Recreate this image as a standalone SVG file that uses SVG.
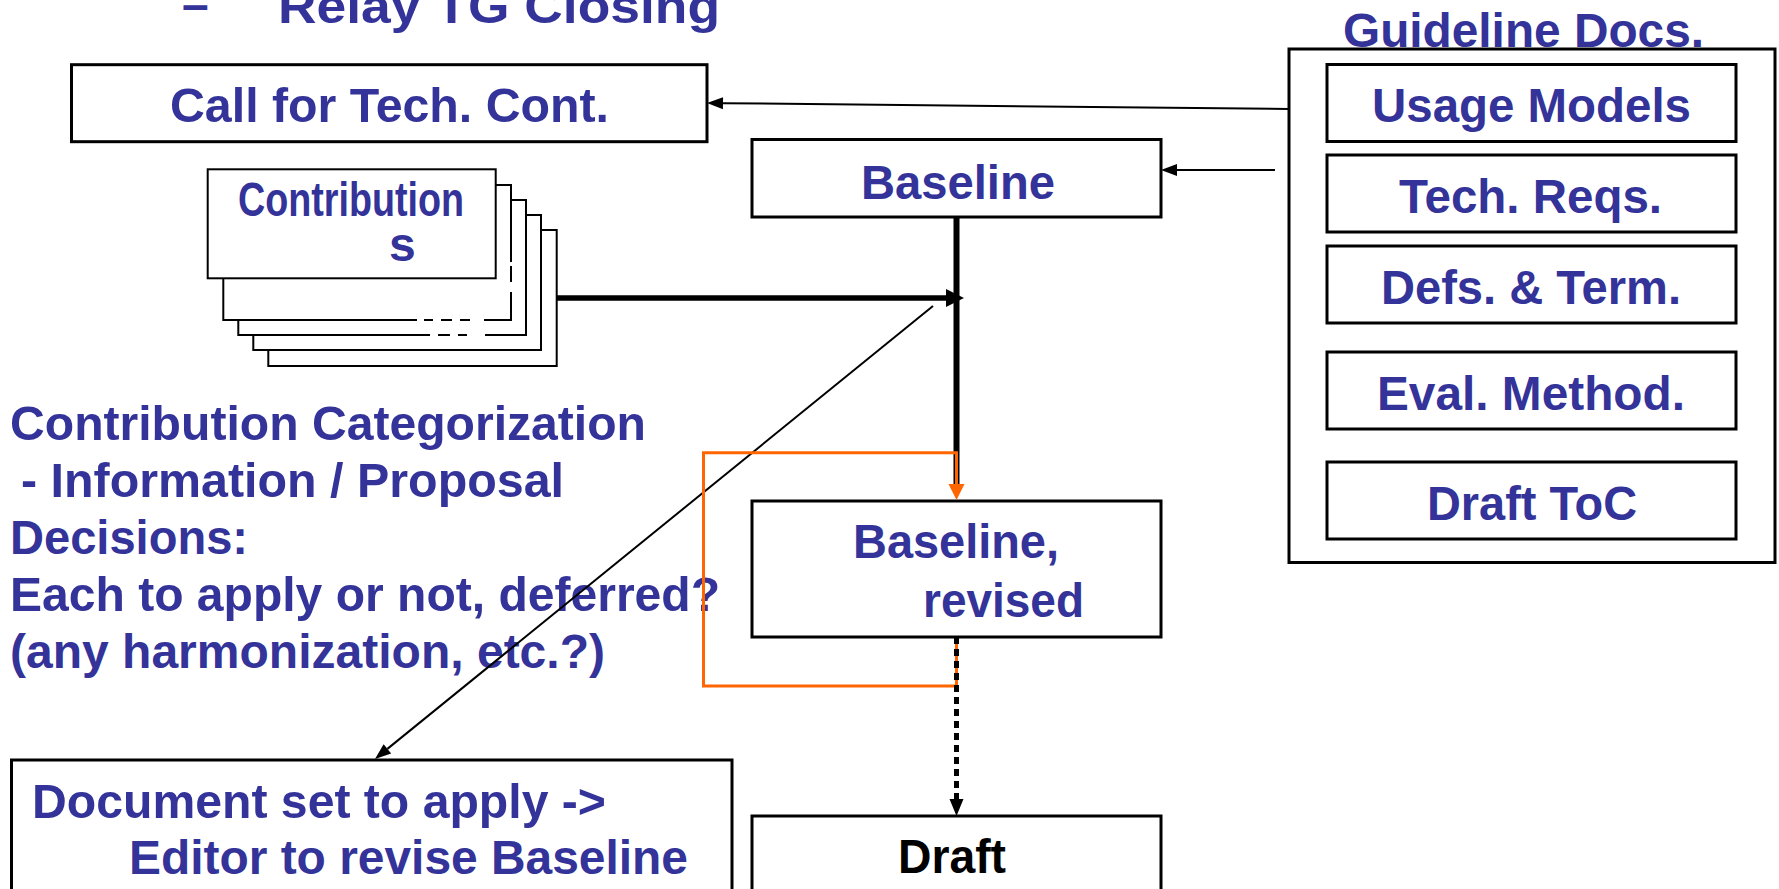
<svg xmlns="http://www.w3.org/2000/svg" width="1779" height="889" viewBox="0 0 1779 889">
<style>
.t{font-family:"Liberation Sans",Arial,sans-serif;font-weight:bold;fill:#333399;font-size:48px}
.box{fill:#fff;stroke:#000;stroke-width:3}
.pg{fill:#fff;stroke:#000;stroke-width:2}
.gap{stroke:#fff;stroke-width:4;fill:none}
.thin{stroke:#000;stroke-width:2;fill:none}
</style>
<defs>
<marker id="mThin" markerUnits="userSpaceOnUse" markerWidth="16" markerHeight="12" refX="0" refY="6" orient="auto" overflow="visible"><path d="M0,0 L16,6 L0,12 z" fill="#000"/></marker>
<marker id="mThick" markerUnits="userSpaceOnUse" markerWidth="18" markerHeight="18" refX="0" refY="9" orient="auto" overflow="visible"><path d="M0,0 L18,9 L0,18 z" fill="#000"/></marker>
<marker id="mOrange" markerUnits="userSpaceOnUse" markerWidth="16" markerHeight="16" refX="0" refY="8" orient="auto" overflow="visible"><path d="M0,0 L16,8 L0,16 z" fill="#FF6600"/></marker>
<marker id="mDot" markerUnits="userSpaceOnUse" markerWidth="16" markerHeight="14" refX="0" refY="7" orient="auto" overflow="visible"><path d="M0,0 L17,7 L0,14 z" fill="#000"/></marker>
</defs>
<rect width="1779" height="889" fill="#fff"/>

<g id="title">
<text class="t" x="182" y="21" font-size="50">–</text>
<text class="t" x="278" y="23" font-size="53" textLength="442" lengthAdjust="spacingAndGlyphs">Relay TG Closing</text>
</g>

<g id="call">
<rect class="box" x="71.5" y="64.7" width="635.5" height="77"/>
<text class="t" x="170" y="122" textLength="439" lengthAdjust="spacingAndGlyphs">Call for Tech. Cont.</text>
</g>

<g id="contributions">
<rect class="pg" x="268.3" y="230" width="288.4" height="136"/>
<rect class="pg" x="253.3" y="215" width="287.7" height="135"/>
<rect class="pg" x="238.3" y="200" width="287.7" height="135"/>
<rect class="pg" x="223.3" y="185" width="287.7" height="135"/>
<line class="gap" x1="511" y1="262" x2="511" y2="266"/>
<line class="gap" x1="511" y1="282" x2="511" y2="292"/>
<line class="gap" x1="417" y1="320" x2="424" y2="320"/>
<line class="gap" x1="433" y1="320" x2="441" y2="320"/>
<line class="gap" x1="452" y1="320" x2="460" y2="320"/>
<line class="gap" x1="470" y1="320" x2="484" y2="320"/>
<line class="gap" x1="430" y1="335" x2="438" y2="335"/>
<line class="gap" x1="450" y1="335" x2="458" y2="335"/>
<line class="gap" x1="467" y1="335" x2="485" y2="335"/>
<rect class="pg" x="207.7" y="169.3" width="288" height="109"/>
<text class="t" x="238" y="215.7" font-size="33" textLength="226" lengthAdjust="spacingAndGlyphs">Contribution</text>
<text class="t" x="389" y="261" font-size="33">s</text>
</g>

<g id="baseline">
<rect class="box" x="752" y="139.5" width="409" height="77.5"/>
<text class="t" x="861" y="198.5" textLength="194" lengthAdjust="spacingAndGlyphs">Baseline</text>
</g>

<g id="baseline-revised">
<rect class="box" x="752" y="501" width="409" height="136"/>
<text class="t" x="853" y="558" textLength="206" lengthAdjust="spacingAndGlyphs">Baseline,</text>
<text class="t" x="923" y="617" textLength="161" lengthAdjust="spacingAndGlyphs">revised</text>
</g>

<g id="draft">
<rect class="box" x="752" y="816" width="409" height="120"/>
<text class="t" x="898" y="873" style="fill:#000" textLength="108" lengthAdjust="spacingAndGlyphs">Draft</text>
</g>

<g id="document-set">
<rect class="box" x="11.5" y="760" width="720.5" height="180"/>
<text class="t" x="32" y="818" textLength="574" lengthAdjust="spacingAndGlyphs">Document set to apply -&gt;</text>
<text class="t" x="129" y="874" textLength="559" lengthAdjust="spacingAndGlyphs">Editor to revise Baseline</text>
</g>

<g id="guideline-docs">
<rect class="box" x="1289" y="49" width="486" height="513.5"/>
<text class="t" x="1343" y="46.5" textLength="361" lengthAdjust="spacingAndGlyphs">Guideline Docs.</text>
<g id="usage-models">
<rect class="box" x="1327" y="64.5" width="409" height="77"/>
<text class="t" x="1372" y="121.7" textLength="319" lengthAdjust="spacingAndGlyphs">Usage Models</text>
</g>
<g id="tech-reqs">
<rect class="box" x="1327" y="155" width="409" height="77"/>
<text class="t" x="1399" y="212.7" textLength="263" lengthAdjust="spacingAndGlyphs">Tech. Reqs.</text>
</g>
<g id="defs-term">
<rect class="box" x="1327" y="246" width="409" height="77"/>
<text class="t" x="1381" y="304" textLength="300" lengthAdjust="spacingAndGlyphs">Defs. &amp; Term.</text>
</g>
<g id="eval-method">
<rect class="box" x="1327" y="352" width="409" height="77"/>
<text class="t" x="1377" y="410" textLength="308" lengthAdjust="spacingAndGlyphs">Eval. Method.</text>
</g>
<g id="draft-toc">
<rect class="box" x="1327" y="462" width="409" height="77"/>
<text class="t" x="1427" y="520" textLength="210" lengthAdjust="spacingAndGlyphs">Draft ToC</text>
</g>
</g>

<g id="categorization-notes">
<text class="t" x="10" y="440" textLength="636" lengthAdjust="spacingAndGlyphs">Contribution Categorization</text>
<text class="t" x="21" y="497" textLength="543" lengthAdjust="spacingAndGlyphs">- Information / Proposal</text>
<text class="t" x="10" y="554" textLength="238" lengthAdjust="spacingAndGlyphs">Decisions:</text>
<text class="t" x="10" y="611" textLength="710" lengthAdjust="spacingAndGlyphs">Each to apply or not, deferred?</text>
<text class="t" x="10" y="668" textLength="595" lengthAdjust="spacingAndGlyphs">(any harmonization, etc.?)</text>
</g>

<g id="connectors">
<line class="thin" x1="1289" y1="109" x2="723" y2="103.2" marker-end="url(#mThin)"/>
<line class="thin" x1="1275" y1="170" x2="1177" y2="170" marker-end="url(#mThin)"/>
<line x1="956.5" y1="217" x2="956.5" y2="487" stroke="#000" stroke-width="6"/>
<line x1="557" y1="298" x2="946" y2="298" stroke="#000" stroke-width="5.5" marker-end="url(#mThick)"/>
<line class="thin" x1="933" y1="306" x2="387.4" y2="748.9" marker-end="url(#mThin)"/>
<path d="M956.5,637 V686 H703.5 V452.7 H956.5 V484" fill="none" stroke="#FF6600" stroke-width="3" marker-end="url(#mOrange)"/>
<line x1="956.5" y1="637" x2="956.5" y2="799" stroke="#000" stroke-width="5" stroke-dasharray="7 5" marker-end="url(#mDot)"/>
</g>
</svg>
